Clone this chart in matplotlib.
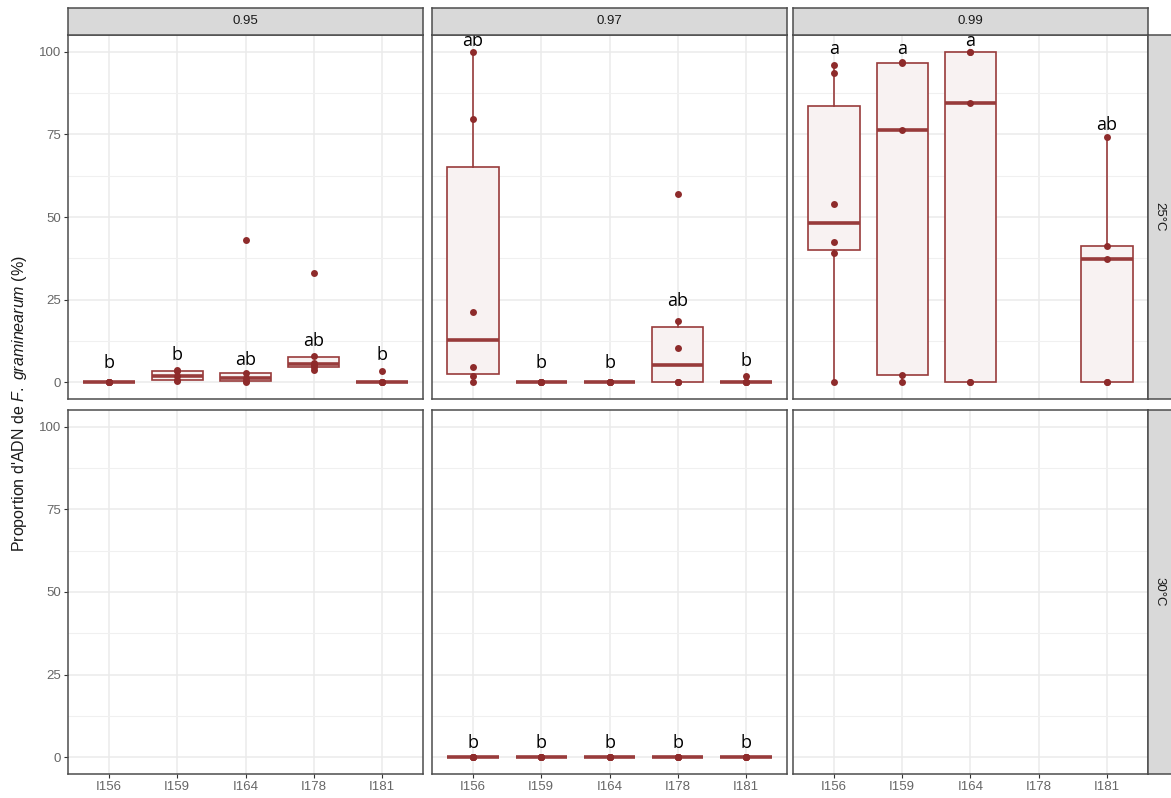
import numpy as np
import matplotlib.pyplot as plt

plt.rcParams['font.family'] = ['Liberation Sans', 'DejaVu Sans']
plt.rcParams['mathtext.fontset'] = 'custom'
plt.rcParams['mathtext.rm'] = 'Liberation Sans'
plt.rcParams['mathtext.it'] = 'Liberation Sans:italic'

strains = ['I156', 'I159', 'I164', 'I178', 'I181']
aw_levels = ['0.95', '0.97', '0.99']
temps = ['25°C', '30°C']

# proportions (%), une liste par souche
aw095_25 = [[0, 0, 0, 0, 0],
            [0.4, 0.7, 2.1, 3.4, 3.7],
            [0.1, 0.4, 1.2, 2.9, 43.2],
            [3.9, 4.6, 5.3, 5.9, 8.1, 33.0],
            [0, 0, 0, 0, 3.5]]
aw097_25 = [[0, 1.9, 4.7, 21.2, 79.7, 100],
            [0, 0, 0, 0, 0],
            [0, 0, 0, 0, 0],
            [0, 0, 0, 10.4, 18.7, 57.0],
            [0, 0, 0, 0, 1.9]]
aw099_25 = [[0, 39.1, 42.4, 53.9, 93.5, 96.0],
            [0, 2.2, 76.2, 96.6, 96.8],
            [0, 0, 84.5, 100, 100],
            [],
            [0, 0, 37.3, 41.1, 74.2]]
aw095_30 = [[], [], [], [], []]
aw097_30 = [[0, 0, 0, 0, 0],
            [0, 0, 0, 0, 0],
            [0, 0, 0, 0, 0],
            [0, 0, 0, 0, 0],
            [0, 0, 0, 0, 0]]
aw099_30 = [[], [], [], [], []]

# lettres des groupes et hauteur où elles sont écrites
let095_25 = ['b', 'b', 'ab', 'ab', 'b']
ly095_25 = [6.0, 8.4, 6.9, 12.4, 8.4]
let097_25 = ['ab', 'b', 'b', 'ab', 'b']
ly097_25 = [103.3, 5.9, 5.9, 24.5, 6.4]
let099_25 = ['a', 'a', 'a', '', 'ab']
ly099_25 = [100.8, 100.8, 103.3, 0, 77.7]
let097_30 = ['b', 'b', 'b', 'b', 'b']
ly097_30 = [4.5, 4.5, 4.5, 4.5, 4.5]

panel_data = [[aw095_25, aw097_25, aw099_25],
              [aw095_30, aw097_30, aw099_30]]
panel_letters = [[(let095_25, ly095_25), (let097_25, ly097_25), (let099_25, ly099_25)],
                 [None, (let097_30, ly097_30), None]]

W, H = 1171, 798
fig = plt.figure(figsize=(W / 100, H / 100), dpi=100)

col_left = [68, 432, 793]
col_w = 355
row_top = [35, 410]
row_h = 364

line_col = '#983B3B'
pt_col = '#8E2B2B'
fill_col = '#F8F2F2'
border = '#4D4D4D'
pos = np.arange(1, 6)

for r in range(2):
    for c in range(3):
        ax = fig.add_axes([col_left[c] / W, 1 - (row_top[r] + row_h) / H,
                           col_w / W, row_h / H])
        ax.set_xlim(0.4, 5.6)
        ax.set_ylim(-5, 105)
        ax.set_yticks([0, 25, 50, 75, 100])
        ax.set_yticks([12.5, 37.5, 62.5, 87.5], minor=True)
        ax.set_xticks(pos)
        ax.grid(which='major', color='#EBEBEB', lw=1.1)
        ax.grid(which='minor', axis='y', color='#F0F0F0', lw=0.8)
        ax.set_axisbelow(True)
        for s in ax.spines.values():
            s.set_color(border)
            s.set_linewidth(1.1)
        ax.tick_params(which='minor', length=0)
        ax.tick_params(colors='#333333', labelcolor='#666666', labelsize=9.5,
                       length=3, width=0.8, pad=2)
        if c == 0:
            ax.set_yticklabels(['0', '25', '50', '75', '100'])
        else:
            ax.tick_params(axis='y', length=0, labelleft=False)
        if r == 1:
            ax.set_xticklabels(strains)
        else:
            ax.tick_params(axis='x', length=0, labelbottom=False)

        data = panel_data[r][c]
        for i, vals in enumerate(data):
            if len(vals) == 0:
                continue
            ax.boxplot([vals], positions=[pos[i]], widths=0.75, whis=1.5,
                       patch_artist=True, showfliers=False, showcaps=False,
                       manage_ticks=False,
                       boxprops=dict(facecolor=fill_col, edgecolor=line_col, lw=1.2),
                       whiskerprops=dict(color=line_col, lw=1.2),
                       medianprops=dict(color=line_col, lw=2.6))
            ax.plot([pos[i]] * len(vals), vals, 'o', color=pt_col, ms=5,
                    mec='none', zorder=4, clip_on=False)

        if panel_letters[r][c] is not None:
            labs, ys = panel_letters[r][c]
            for i in range(5):
                if labs[i]:
                    ax.text(pos[i], ys[i], labs[i], ha='center', va='center',
                            fontsize=13, family=['Open Sans', 'DejaVu Sans'],
                            color='black', zorder=5)

# bandeaux du haut
for c in range(3):
    sax = fig.add_axes([col_left[c] / W, 1 - row_top[0] / H, col_w / W, 27 / H])
    sax.set_facecolor('#D9D9D9')
    sax.set_xticks([])
    sax.set_yticks([])
    for s in sax.spines.values():
        s.set_color(border)
        s.set_linewidth(1.1)
    sax.text(0.5, 0.5, aw_levels[c], ha='center', va='center', fontsize=9.5,
             color='#1A1A1A', transform=sax.transAxes)

# bandeaux de droite
for r in range(2):
    sax = fig.add_axes([(col_left[2] + col_w) / W, 1 - (row_top[r] + row_h) / H,
                        27 / W, row_h / H])
    sax.set_facecolor('#D9D9D9')
    sax.set_xticks([])
    sax.set_yticks([])
    for s in sax.spines.values():
        s.set_color(border)
        s.set_linewidth(1.1)
    sax.text(0.42, 0.5, temps[r], ha='center', va='center', fontsize=9.5,
             rotation=-90, color='#1A1A1A', transform=sax.transAxes)

fig.text(20 / W, 1 - 404 / H, r"Proportion d'ADN de $\mathit{F.\ graminearum}$ (%)",
         rotation=90, ha='center', va='center', fontsize=11.5, color='#1A1A1A')

fig.savefig('out.png', dpi=100)
